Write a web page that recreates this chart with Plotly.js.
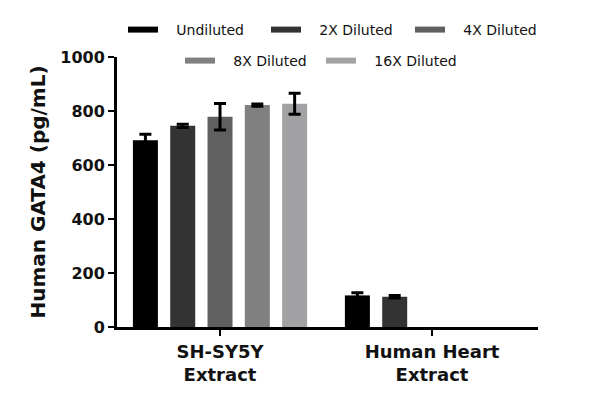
<!DOCTYPE html>
<html>
<head>
<meta charset="utf-8">
<script src="https://cdn.plot.ly/plotly-3.0.1.min.js"></script>
<style>
  html, body { margin: 0; padding: 0; background: #fff; }
  #chart { width: 600px; height: 408px; }
</style>
</head>
<body>
<div id="chart"></div>
<script>
// Sample groups on the category axis
const categories = ['SH-SY5Y<br>Extract', 'Human Heart<br>Extract'];

// Dilution series names
const seriesNames = ['Undiluted', '2X Diluted', '4X Diluted', '8X Diluted', '16X Diluted'];

// Measured GATA4 concentration (pg/mL) per dilution
const undiluted = [692, 117];
const diluted2x = [745, 112];
const diluted4x = [779, null];
const diluted8x = [822, null];
const diluted16x = [827, null];

// Error (SD) per dilution
const undilutedErr = [22, 10];
const diluted2xErr = [6, 5];
const diluted4xErr = [49, 0];
const diluted8xErr = [4, 0];
const diluted16xErr = [39, 0];

const seriesValues = [undiluted, diluted2x, diluted4x, diluted8x, diluted16x];
const seriesErrors = [undilutedErr, diluted2xErr, diluted4xErr, diluted8xErr, diluted16xErr];
const seriesColors = ['#000000', '#333333', '#606060', '#808080', '#a2a2a4'];

const FONT = 'Century Gothic, "URW Gothic", "DejaVu Sans", sans-serif';

const traces = [];
seriesNames.forEach((name, i) => {
  traces.push({
    type: 'bar',
    name: name,
    x: categories,
    y: seriesValues[i],
    marker: { color: seriesColors[i], line: { width: 0 } },
    error_y: {
      type: 'data',
      array: seriesErrors[i],
      visible: true,
      color: '#000',
      thickness: 3,
      width: 6
    },
    showlegend: false,
    hoverinfo: 'y'
  });
});

// Legend keys: wide flat swatches, one legend box per entry so the
// two rows (3 + 2 entries) can each be centred above the plot.
// Non-breaking spaces widen the gap between swatch and label.
const legendIds = ['legend', 'legend2', 'legend3', 'legend4', 'legend5'];
const PAD = '\u00a0\u00a0\u00a0';
seriesNames.forEach((name, i) => {
  traces.push({
    type: 'scatter',
    mode: 'lines',
    name: PAD + name,
    x: [null],
    y: [null],
    line: { color: seriesColors[i], width: 6 },
    legend: legendIds[i],
    showlegend: true,
    hoverinfo: 'skip'
  });
});

// Left edge (px) and row centre (px from top) of each legend entry
const legendX = [123, 266, 410, 180, 321];
const legendY = [30, 30, 30, 61, 61];

const layout = {
  width: 600,
  height: 408,
  paper_bgcolor: '#fff',
  plot_bgcolor: '#fff',
  margin: { l: 117, r: 62, t: 57, b: 81, autoexpand: false },
  barmode: 'group',
  bargap: 0.12,
  bargroupgap: 0.33,
  font: { family: FONT, color: '#000' },
  xaxis: {
    type: 'category',
    range: [-0.486, 1.5],
    showline: true,
    linecolor: '#000',
    linewidth: 3,
    ticks: 'outside',
    ticklen: 6,
    tickwidth: 2.5,
    tickcolor: '#000',
    showgrid: false,
    zeroline: false,
    tickfont: { family: FONT, size: 18, color: '#111', weight: 'bold' }
  },
  yaxis: {
    range: [0, 1000],
    tickvals: [0, 200, 400, 600, 800, 1000],
    showline: true,
    linecolor: '#000',
    linewidth: 3,
    ticks: 'outside',
    ticklen: 6,
    tickwidth: 2.5,
    tickcolor: '#000',
    showgrid: false,
    zeroline: false,
    tickfont: { family: FONT, size: 16, color: '#111', weight: 'bold' },
    title: {
      text: 'Human GATA4 (pg/mL)',
      font: { family: FONT, size: 20, color: '#111', weight: 'bold' },
      standoff: 10
    }
  }
};

legendIds.forEach((id, i) => {
  layout[id] = {
    orientation: 'h',
    xref: 'container',
    yref: 'container',
    x: legendX[i] / 600,
    y: 1 - legendY[i] / 408,
    xanchor: 'left',
    yanchor: 'middle',
    bgcolor: 'rgba(0,0,0,0)',
    font: { family: FONT, size: 14, color: '#111' },
    itemwidth: 30
  };
});

Plotly.newPlot('chart', traces, layout, { displayModeBar: false, staticPlot: true });
</script>
</body>
</html>
